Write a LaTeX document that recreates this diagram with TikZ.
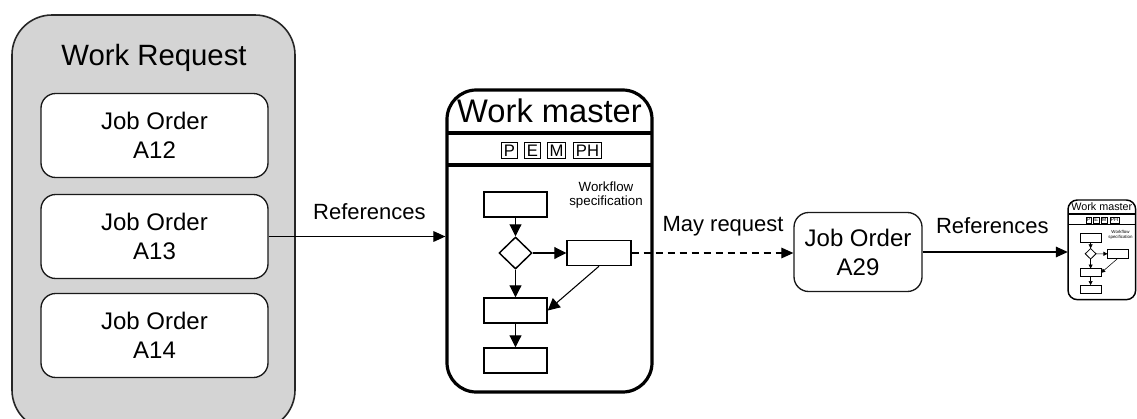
\documentclass[tikz,border=0pt]{standalone}
\usepackage{fontspec}
\setmainfont{Liberation Sans}
\usepackage{tikz}
\usetikzlibrary{arrows.meta,positioning,shapes.geometric}
\tikzset{
  reqbox/.style={draw=black!85,fill=black!17,line width=1.2pt,rounded corners=30pt,minimum width=212.25pt,minimum height=311.25pt,inner sep=0pt},
  jobbox/.style={draw=black!90,fill=white,line width=1pt,rounded corners=11pt,minimum width=170.25pt,minimum height=63pt,align=center,font=\fontsize{18}{21.75}\selectfont},
  lbl/.style={inner sep=2pt,font=\fontsize{16.5}{18}\selectfont},
  link/.style={-{Triangle[length=9pt,width=8pt]},line width=0.8pt},
  wmframe/.style={draw,line width=2.4pt,rounded corners=22pt,minimum width=153.75pt,minimum height=226.5pt,inner sep=0pt},
  wmrule/.style={line width=2.4pt},
  tag/.style={draw,line width=0.8pt,inner xsep=1.8pt,inner ysep=0pt,minimum height=12.5pt,font=\fontsize{12.5}{12.5}\selectfont},
  flowbox/.style={draw,line width=1.1pt,minimum width=47.25pt,minimum height=18.75pt,inner sep=0pt},
  flowdec/.style={draw,diamond,line width=1.1pt,minimum width=24.75pt,minimum height=24pt,inner sep=0pt},
  flowarr/.style={-{Triangle[length=9pt,width=9pt]},line width=0.8pt},
  workmaster/.pic={
    \node (-frame) [wmframe] at (102.5,151) {};
    \node (-title) [anchor=base,font=\fontsize{24.5}{24.5}\selectfont] at (102.5,32) {Work master};
    \draw[wmrule] (0,43) -- (205,43);
    \draw[wmrule] (0,75) -- (205,75);
    % phase tags
    \node (-p) [tag] at (62.5,60.5) {P};
    \node (-e) [tag] at (85.5,60.5) {E};
    \node (-m) [tag] at (109.5,60.5) {M};
    \node (-ph) [tag] at (140.5,60.5) {PH};
    \node (-spec) [align=center,font=\fontsize{10}{11}\selectfont] at (159,105) {Workflow\\specification};
    % flow
    \node (-box1) [flowbox] at (68.5,114.5) {};
    \node (-dec) [flowdec] at (68.5,163) {};
    \node (-side) [flowbox,minimum width=48pt] at (152,163) {};
    \node (-box3) [flowbox] at (68.5,220.5) {};
    \node (-box4) [flowbox] at (68.5,270.5) {};
    \path[flowarr] (-box1) edge (-dec);
    \path[flowarr] (-dec) edge (-side);
    \path[flowarr] (-dec) edge (-box3);
    \path[flowarr] (-side.south) edge (-box3.east);
    \path[flowarr] (-box3) edge (-box4);
  },
  mini/.style={scale=0.33,transform shape,
    wmframe/.append style={line width=1.1pt,rounded corners=7pt},
    wmrule/.append style={line width=1.1pt},
    tag/.append style={line width=0.3pt},
    flowbox/.append style={line width=0.6pt},
    flowdec/.append style={line width=0.6pt},
    flowarr/.append style={-{Triangle[length=3pt,width=3pt]},line width=0.4pt}}
}

\begin{document}
\begin{tikzpicture}[x=0.75pt,y=-0.75pt]
\useasboundingbox (0,0) rectangle (1137,418);
% work request
\node (req) [reqbox] at (153.5,222.5) {};
\node (reqtitle) [anchor=base,font=\fontsize{22}{22}\selectfont] at (154,65) {Work Request};
\node (job12) [jobbox] at (154.5,135.5) {Job Order\\A12};
\node (job13) [jobbox] at (154.5,236.5) {Job Order\\A13};
\node (job14) [jobbox] at (154.5,335.5) {Job Order\\A14};
%
\pic (wm) at (447,90) {workmaster};
\node (a29) [jobbox,minimum width=96pt,minimum height=59.25pt] at (858,252) {Job Order\\A29};
\pic[mini] (mini) at (1068,200) {workmaster};
%
\path[link] (job13.east) edge node[pos=0.57,above=10pt,lbl] {References} (job13.east -| wm-frame.west);
\path[link,dash pattern=on 5.5pt off 3.5pt] (wm-side.east) edge node[pos=0.565,above=10pt,lbl] {May request} (wm-side.east -| a29.west);
\path[link] (a29.east) edge node[pos=0.48,above=11.5pt,lbl] {References} (a29.east -| mini-frame.west);
\end{tikzpicture}
\end{document}
